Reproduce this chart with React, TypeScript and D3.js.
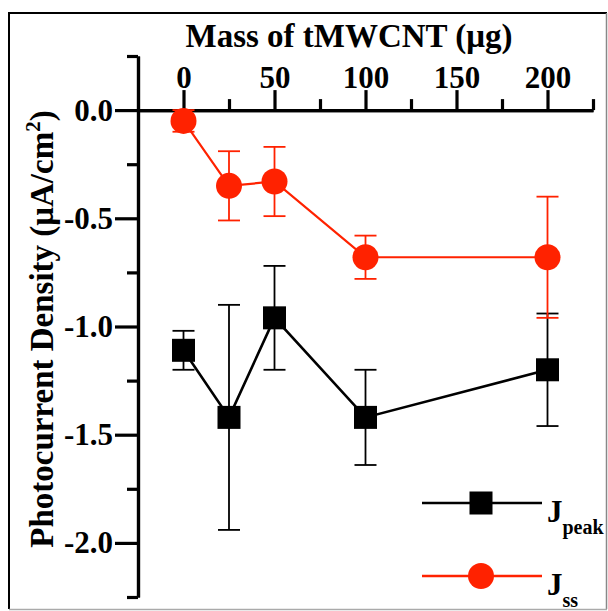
import React, { useEffect, useRef } from 'react';
import * as d3 from 'd3';

// masses of tMWCNT (µg)
const masses = [0, 25, 50, 100, 200];
// J_peak photocurrent density and its error
const jPeak = [-1.11, -1.42, -0.96, -1.42, -1.2];
const jPeakErr = [0.09, 0.52, 0.24, 0.22, 0.26];
// J_ss photocurrent density and its error
const jSs = [-0.05, -0.35, -0.33, -0.68, -0.68];
const jSsErr = [0.05, 0.16, 0.16, 0.1, 0.28];

const xTicks = [0, 50, 100, 150, 200];
const xMinor = [25, 75, 125, 175, 225];
const yTicks = [0, -0.5, -1.0, -1.5, -2.0];
const yMinor = [0.25, -0.25, -0.75, -1.25, -1.75, -2.25];

const RED = '#ff2200';
const FONT = '"Liberation Serif", "Times New Roman", serif';

function App() {
  const ref = useRef<SVGSVGElement | null>(null);

  useEffect(() => {
    const svg = d3.select(ref.current);
    svg.selectAll('*').remove();

    const x = d3.scaleLinear().domain([-25, 225]).range([138, 593]);
    const y = d3.scaleLinear().domain([0.25, -2.25]).range([56, 597]);

    // frame
    svg.append('line').attr('x1', 9).attr('y1', 13).attr('x2', 607).attr('y2', 13)
      .attr('stroke', '#000').attr('stroke-width', 2);
    svg.append('line').attr('x1', 9).attr('y1', 12).attr('x2', 9).attr('y2', 609)
      .attr('stroke', '#000').attr('stroke-width', 2);
    svg.append('line').attr('x1', 606.5).attr('y1', 13).attr('x2', 606.5).attr('y2', 609)
      .attr('stroke', '#888').attr('stroke-width', 1.5);
    svg.append('line').attr('x1', 9).attr('y1', 609.5).attr('x2', 607).attr('y2', 609.5)
      .attr('stroke', '#aaa').attr('stroke-width', 1.5);

    // y axis
    const yAxis = svg.append('g').attr('transform', `translate(${x(-25)},0)`)
      .call(d3.axisLeft(y).tickValues(yTicks).tickSize(23).tickSizeOuter(0).tickPadding(2)
        .tickFormat((d) => d3.format('.1f')(d as number).replace('−', '-')));
    yAxis.append('g')
      .call(d3.axisLeft(y).tickValues(yMinor).tickSize(11).tickSizeOuter(0).tickFormat(() => ''));

    // x axis on top, crossing at y = 0
    const xAxis = svg.append('g').attr('transform', `translate(0,${y(0)})`)
      .call(d3.axisTop(x).tickValues(xTicks).tickSize(20).tickSizeOuter(0).tickPadding(2)
        .tickFormat(d3.format('d')));
    xAxis.append('g')
      .call(d3.axisTop(x).tickValues(xMinor).tickSize(11).tickSizeOuter(0).tickFormat(() => ''));

    svg.selectAll('.domain').attr('stroke', '#000').attr('stroke-width', 3.2);
    svg.selectAll('.tick line').attr('stroke', '#000').attr('stroke-width', 3.2);
    svg.selectAll('.tick text')
      .attr('font-family', FONT).attr('font-weight', 'bold').attr('font-size', 31).attr('fill', '#000');

    // axis titles
    svg.append('text').attr('x', 349).attr('y', 47).attr('text-anchor', 'middle')
      .attr('font-family', FONT).attr('font-weight', 'bold').attr('font-size', 33)
      .text('Mass of tMWCNT (μg)');

    const yl = svg.append('text').attr('transform', 'translate(53,329) rotate(-90)')
      .attr('text-anchor', 'middle')
      .attr('font-family', FONT).attr('font-weight', 'bold').attr('font-size', 33);
    yl.append('tspan').text('Photocurrent Density (μA/cm');
    yl.append('tspan').attr('dy', -13).attr('font-size', 21).text('2');
    yl.append('tspan').attr('dy', 13).text(')');

    const drawSeries = (
      vals: number[], errs: number[], color: string, lw: number, marker: 'square' | 'circle'
    ) => {
      const g = svg.append('g');
      const pts = masses.map((m, i) => ({ m, v: vals[i], e: errs[i] }));
      // error bars
      pts.forEach((p) => {
        g.append('line').attr('x1', x(p.m)).attr('x2', x(p.m))
          .attr('y1', y(p.v + p.e)).attr('y2', y(p.v - p.e))
          .attr('stroke', color).attr('stroke-width', 1.8);
        [p.v + p.e, p.v - p.e].forEach((ev) => {
          g.append('line').attr('x1', x(p.m) - 11).attr('x2', x(p.m) + 11)
            .attr('y1', y(ev)).attr('y2', y(ev))
            .attr('stroke', color).attr('stroke-width', 1.8);
        });
      });
      g.append('path').datum(pts)
        .attr('d', d3.line<any>().x((d) => x(d.m)).y((d) => y(d.v)))
        .attr('fill', 'none').attr('stroke', color).attr('stroke-width', lw);
      if (marker === 'square') {
        g.selectAll('rect.mk').data(pts).enter().append('rect')
          .attr('x', (d) => x(d.m) - 11.5).attr('y', (d) => y(d.v) - 11.5)
          .attr('width', 23).attr('height', 23).attr('fill', color);
      } else {
        g.selectAll('circle.mk').data(pts).enter().append('circle')
          .attr('cx', (d) => x(d.m)).attr('cy', (d) => y(d.v)).attr('r', 13).attr('fill', color);
      }
    };

    drawSeries(jPeak, jPeakErr, '#000', 2.6, 'square');
    drawSeries(jSs, jSsErr, RED, 2.2, 'circle');

    // legend
    const legend = [
      { name: 'peak', color: '#000', marker: 'square', yPos: 503 },
      { name: 'ss', color: RED, marker: 'circle', yPos: 576 },
    ];
    legend.forEach((l) => {
      svg.append('line').attr('x1', 422).attr('x2', 542).attr('y1', l.yPos).attr('y2', l.yPos)
        .attr('stroke', l.color).attr('stroke-width', 2.4);
      if (l.marker === 'square') {
        svg.append('rect').attr('x', 481 - 11.5).attr('y', l.yPos - 11.5)
          .attr('width', 23).attr('height', 23).attr('fill', l.color);
      } else {
        svg.append('circle').attr('cx', 481).attr('cy', l.yPos).attr('r', 13).attr('fill', l.color);
      }
      const t = svg.append('text').attr('x', 547).attr('y', l.yPos + 19)
        .attr('font-family', FONT).attr('font-weight', 'bold').attr('font-size', 31);
      t.append('tspan').text('J');
      t.append('tspan').attr('dy', 12).attr('font-size', 20).text(l.name);
    });
  }, []);

  return (
    <svg ref={ref} width={608} height={611}
      style={{ position: 'absolute', left: 0, top: 0, background: '#fff' }} />
  );
}

export default App;
